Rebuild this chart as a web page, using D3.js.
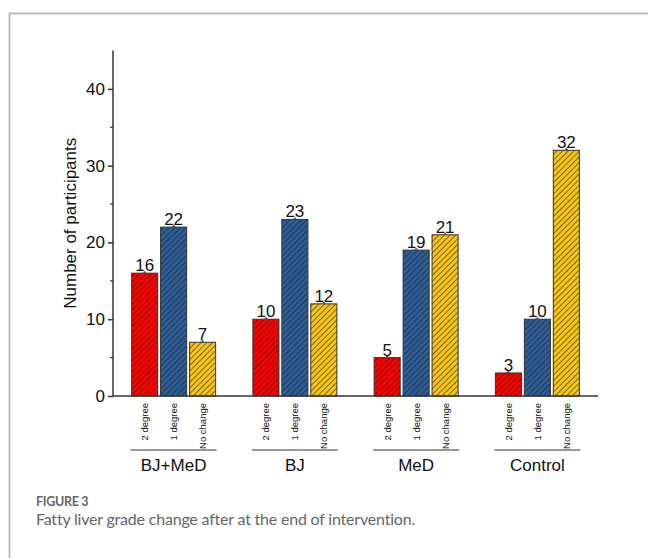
<!DOCTYPE html>
<html>
<head>
<meta charset="utf-8">
<script src="https://cdn.jsdelivr.net/npm/d3@7"></script>
<style>
  body { margin: 0; background: #fff; }
  svg { display: block; }
</style>
</head>
<body>
<div id="chart"></div>
<script>
const width = 648;
const height = 558;

// data
const groups = ['BJ+MeD', 'BJ', 'MeD', 'Control'];
const grades = ['2 degree', '1 degree', 'No change'];
const twoDegree = [16, 10, 5, 3];
const oneDegree = [22, 23, 19, 10];
const noChange = [7, 12, 21, 32];
const yTicks = [0, 10, 20, 30, 40];
const colors = ['#ff0000', '#2e5e98', '#f7c418'];

const series = [twoDegree, oneDegree, noChange];
const rows = [];
groups.forEach((g, gi) => {
  grades.forEach((k, ki) => {
    rows.push({ group: g, grade: k, idx: ki, value: series[ki][gi] });
  });
});

const font = "'Liberation Sans', Arial, sans-serif";

const svg = d3.select('#chart')
  .append('svg')
  .attr('width', width)
  .attr('height', height);

// frame
svg.append('path')
  .attr('d', 'M9.5,' + height + 'V13.5H' + width)
  .attr('fill', 'none')
  .attr('stroke', '#bbbbbb')
  .attr('stroke-width', 2);

const x0 = d3.scaleBand()
  .domain(groups)
  .range([113, 598])
  .paddingInner(0)
  .paddingOuter(0);

const x1 = d3.scaleBand()
  .domain(grades)
  .range([0, 84])
  .paddingInner(0.1);

const groupOffset = (x0.bandwidth() - 84) / 2;
const barX = d => x0(d.group) + groupOffset + x1(d.grade);

const y = d3.scaleLinear()
  .domain([0, 45])
  .range([396, 50.5]);

// hatch patterns
const defs = svg.append('defs');
colors.forEach((c, i) => {
  const p = defs.append('pattern')
    .attr('id', 'hatch' + i)
    .attr('patternUnits', 'userSpaceOnUse')
    .attr('width', 4)
    .attr('height', 4)
    .attr('patternTransform', 'rotate(45)');
  p.append('rect').attr('width', 4).attr('height', 4).attr('fill', c);
  p.append('line')
    .attr('x1', 0).attr('y1', 0).attr('x2', 0).attr('y2', 4)
    .attr('stroke', '#1a1a1a')
    .attr('stroke-width', 1.1);
});

// bars
const bars = svg.append('g');
bars.selectAll('rect')
  .data(rows)
  .enter()
  .append('rect')
  .attr('x', barX)
  .attr('y', d => y(d.value))
  .attr('width', x1.bandwidth())
  .attr('height', d => y(0) - y(d.value))
  .attr('fill', d => 'url(#hatch' + d.idx + ')')
  .attr('stroke', '#333')
  .attr('stroke-width', 1);

// small error markers
bars.selectAll('path.err')
  .data(rows)
  .enter()
  .append('path')
  .attr('class', 'err')
  .attr('d', d => {
    const cx = barX(d) + x1.bandwidth() / 2;
    const cy = y(d.value);
    return 'M' + (cx - 2) + ',' + cy + 'L' + cx + ',' + (cy - 2.5) + 'L' + (cx + 2) + ',' + cy + 'Z';
  })
  .attr('fill', '#555');

// value labels
svg.append('g').selectAll('text')
  .data(rows)
  .enter()
  .append('text')
  .attr('x', d => barX(d) + x1.bandwidth() / 2)
  .attr('y', d => y(d.value) - 2)
  .attr('text-anchor', 'middle')
  .style('font-family', font)
  .style('font-size', '17px')
  .attr('fill', '#111')
  .text(d => d.value);

// y axis
const yAxis = svg.append('g')
  .attr('transform', 'translate(113,0)')
  .call(d3.axisLeft(y).tickValues(yTicks).tickSize(5).tickPadding(3).tickSizeOuter(0));
yAxis.select('.domain').attr('stroke', '#333').attr('stroke-width', 1.5).attr('d', 'M0,' + y(0) + 'V' + y(45));
yAxis.selectAll('.tick line').attr('stroke', '#333').attr('stroke-width', 1.5);
yAxis.selectAll('.tick text')
  .style('font-family', font)
  .style('font-size', '17px')
  .attr('fill', '#111');

// minor ticks
svg.append('g').selectAll('line')
  .data([5, 15, 25, 35])
  .enter()
  .append('line')
  .attr('x1', 110).attr('x2', 113)
  .attr('y1', d => y(d)).attr('y2', d => y(d))
  .attr('stroke', '#333')
  .attr('stroke-width', 1.2);

// x axis line
svg.append('line')
  .attr('x1', 113).attr('x2', 598)
  .attr('y1', y(0)).attr('y2', y(0))
  .attr('stroke', '#333')
  .attr('stroke-width', 1.5);

// rotated grade labels
svg.append('g').selectAll('text')
  .data(rows)
  .enter()
  .append('text')
  .attr('transform', d => {
    const cx = barX(d) + x1.bandwidth() / 2;
    return 'translate(' + (cx + 3.5) + ',403) rotate(-90)';
  })
  .attr('text-anchor', 'end')
  .style('font-family', font)
  .style('font-size', '9.5px')
  .attr('fill', '#111')
  .text(d => d.grade);

// group underline and labels
const gl = svg.append('g').selectAll('g')
  .data(groups)
  .enter()
  .append('g');
gl.append('line')
  .attr('x1', d => x0(d) + groupOffset - 1)
  .attr('x2', d => x0(d) + groupOffset + 85)
  .attr('y1', 450).attr('y2', 450)
  .attr('stroke', '#333')
  .attr('stroke-width', 1.2);
gl.append('text')
  .attr('x', d => x0(d) + x0.bandwidth() / 2)
  .attr('y', 471)
  .attr('text-anchor', 'middle')
  .style('font-family', font)
  .style('font-size', '17px')
  .attr('fill', '#111')
  .text(d => d);

// y axis title
svg.append('text')
  .attr('transform', 'translate(76,' + y(22.5) + ') rotate(-90)')
  .attr('text-anchor', 'middle')
  .style('font-family', font)
  .style('font-size', '17px')
  .attr('fill', '#111')
  .text('Number of participants');

// caption
svg.append('text')
  .attr('x', 36).attr('y', 506)
  .style('font-family', 'Lato, sans-serif')
  .style('font-size', '12.5px')
  .style('font-weight', 700)
  .style('letter-spacing', '-0.3px')
  .attr('fill', '#666')
  .text('FIGURE 3');
svg.append('text')
  .attr('x', 36).attr('y', 525)
  .style('font-family', 'Lato, sans-serif')
  .style('font-size', '16px')
  .style('letter-spacing', '-0.2px')
  .attr('fill', '#666')
  .text('Fatty liver grade change after at the end of intervention.');
</script>
</body>
</html>
